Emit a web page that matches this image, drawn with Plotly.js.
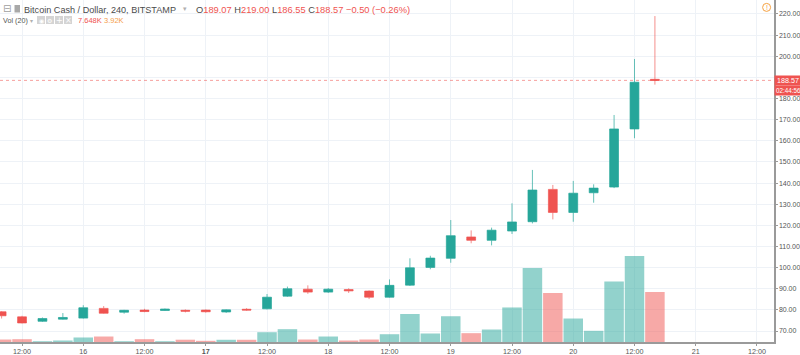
<!DOCTYPE html>
<html>
<head>
<meta charset="utf-8">
<script src="https://cdn.plot.ly/plotly-3.0.1.min.js"></script>
<style>html,body{margin:0;padding:0;background:#fff;}#chart{width:800px;height:355px;}</style>
</head>
<body>
<div id="chart"></div>
<script>
// ---- data (4h candles, BCH/USD, Bitstamp) ----
var times = [
  '2018-12-15 08:00','2018-12-15 12:00','2018-12-15 16:00','2018-12-15 20:00',
  '2018-12-16 00:00','2018-12-16 04:00','2018-12-16 08:00','2018-12-16 12:00','2018-12-16 16:00','2018-12-16 20:00',
  '2018-12-17 00:00','2018-12-17 04:00','2018-12-17 08:00','2018-12-17 12:00','2018-12-17 16:00','2018-12-17 20:00',
  '2018-12-18 00:00','2018-12-18 04:00','2018-12-18 08:00','2018-12-18 12:00','2018-12-18 16:00','2018-12-18 20:00',
  '2018-12-19 00:00','2018-12-19 04:00','2018-12-19 08:00','2018-12-19 12:00','2018-12-19 16:00','2018-12-19 20:00',
  '2018-12-20 00:00','2018-12-20 04:00','2018-12-20 08:00','2018-12-20 12:00','2018-12-20 16:00'
];
var openP  = [79.1,76.7,74.6,75.6,76.1,80.7,78.9,79.9,79.7,79.8,79.9,79.0,80.3,80.5,86.5,89.8,88.4,89.6,88.9,86.0,91.7,100.1,104.4,114.5,112.9,117.3,121.7,137.0,126.1,135.4,138.1,165.6,189.07];
var highP  = [79.4,77.2,76.4,78.5,82.2,81.8,80.0,80.5,80.6,80.2,80.2,80.2,80.8,87.5,91.0,91.6,90.3,90.2,89.2,94.4,104.4,105.6,122.5,117.6,118.9,130.4,146.2,139.1,141.0,139.4,172.2,198.7,219.00];
var lowP   = [75.9,73.6,74.3,75.4,75.9,78.2,78.2,78.9,79.5,78.8,78.7,78.6,79.6,80.2,86.2,87.6,88.0,88.0,85.1,85.8,91.3,99.2,102.3,111.5,110.5,115.9,120.9,122.8,121.7,130.7,137.6,161.2,186.55];
var closeP = [77.2,73.8,75.9,76.4,81.0,78.4,79.8,79.2,80.4,79.4,79.1,80.0,79.9,86.0,90.0,88.4,89.8,89.0,86.0,91.6,99.9,104.5,115.1,112.9,117.7,121.6,136.7,126.1,135.2,137.6,165.6,187.7,188.57];
var volumeK = [0.38,0.43,0.12,0.23,0.69,0.84,0.12,0.43,0.12,0.35,0.18,0.34,0.34,1.50,1.96,0.38,0.84,0.23,0.38,1.19,4.28,1.30,3.94,1.35,1.91,5.28,11.31,7.49,3.59,1.71,9.25,13.15,7.648];
var xTickVals = ['2018-12-15 12:00','2018-12-16 00:00','2018-12-16 12:00','2018-12-17 00:00','2018-12-17 12:00','2018-12-18 00:00','2018-12-18 12:00','2018-12-19 00:00','2018-12-19 12:00','2018-12-20 00:00','2018-12-20 12:00','2018-12-21 00:00','2018-12-21 12:00'];
var xTickText = ['12:00','16','12:00','<b>17</b>','12:00','18','12:00','19','12:00','20','12:00','21','12:00'];
var yTickVals = [70,80,90,100,110,120,130,140,150,160,170,180,190,200,210,220];
// 190.00 sits under the last-price label box, as in the reference
var yTickText = ['70.00','80.00','90.00','100.00','110.00','120.00','130.00','140.00','150.00','160.00','170.00','180.00','','200.00','210.00','220.00'];
var lastPrice = 188.57;

// ---- styling ----
var UP = '#26a69a', DOWN = '#ef5350';
var UPV = 'rgba(38,166,154,0.5)', DOWNV = 'rgba(239,83,80,0.5)';
var FONT = 'Liberation Sans, Arial, sans-serif';
var PW = 774, PH = 342;
function px(x){ return x / PW; }
function py(y){ return 1 - y / PH; }

var volColors = closeP.map(function(c, i){ return c >= openP[i] ? UPV : DOWNV; });

var volTrace = {
  type: 'bar', x: times, y: volumeK, yaxis: 'y2',
  width: 4 * 3600000 * 0.955,
  marker: { color: volColors, line: { width: 0 } },
  hoverinfo: 'skip'
};
var candleTrace = {
  type: 'candlestick', x: times, open: openP, high: highP, low: lowP, close: closeP,
  increasing: { line: { color: 'rgba(38,166,154,0.7)', width: 1 }, fillcolor: UP },
  decreasing: { line: { color: 'rgba(239,83,80,0.65)', width: 1 }, fillcolor: DOWN },
  whiskerwidth: 0, hoverinfo: 'skip'
};

var red = function(t){ return '<span style="color:' + DOWN + '">' + t + '</span>'; };

var annotations = [
  { x: px(2), y: py(9), text: '⊟', font: { size: 10, color: '#a0a0a0', family: 'DejaVu Sans' } },
  { x: px(23), y: py(9.5), text: 'Bitcoin Cash / Dollar, 240, BITSTAMP', font: { size: 9.1, color: '#4a4a4a', family: FONT } },
  { x: px(182), y: py(9), text: '▾', font: { size: 7, color: '#b0b0b0', family: 'DejaVu Sans' } },
  { x: px(195), y: py(9.5), text: 'O' + red('189.07') + ' H' + red('219.00') + ' L' + red('186.55') + ' C' + red('188.57') + ' ' + red('−0.50 (−0.26%)'), font: { size: 9.3, color: '#4a4a4a', family: FONT } },
  { x: px(2), y: py(20), text: 'Vol (20)', font: { size: 7.2, color: '#555', family: FONT } },
  { x: px(29), y: py(20), text: '▾', font: { size: 6, color: '#b0b0b0', family: 'DejaVu Sans' } },
  { x: px(41), y: py(20), text: '◉', xanchor: 'center', font: { size: 6, color: '#fff', family: 'DejaVu Sans' } },
  { x: px(50), y: py(20), text: '⚙', xanchor: 'center', font: { size: 6, color: '#fff', family: 'DejaVu Sans' } },
  { x: px(59), y: py(20), text: '+', xanchor: 'center', font: { size: 8, color: '#fff', family: 'DejaVu Sans' } },
  { x: px(68), y: py(20), text: '×', xanchor: 'center', font: { size: 8, color: '#fff', family: 'DejaVu Sans' } },
  { x: px(77), y: py(20), text: '7.648K', font: { size: 7.5, color: DOWN, family: FONT } },
  { x: px(103), y: py(20), text: '3.92K', font: { size: 7.5, color: '#f59d4a', family: FONT } },
  { x: px(766.6), y: py(7.6), text: '!', xanchor: 'center', font: { size: 7, color: '#f5a142', family: FONT } },
  { x: px(775.5), y: py(80.5), text: lastPrice.toFixed(2), font: { size: 7.2, color: '#fff', family: FONT } },
  { x: px(775.2), y: py(90.5), text: '02:44:56', font: { size: 6.3, color: '#fff', family: FONT } }
].map(function(a){
  return Object.assign({ xref: 'paper', yref: 'paper', xanchor: 'left', yanchor: 'middle', showarrow: false, borderpad: 0 }, a);
});

var shapes = [
  { type: 'line', xref: 'paper', yref: 'y', x0: 0, x1: 1, y0: lastPrice, y1: lastPrice, line: { color: 'rgba(239,83,80,0.55)', width: 1, dash: 'dot' } },
  { type: 'rect', xref: 'paper', yref: 'paper', x0: px(14.5), x1: px(20), y0: py(5), y1: py(12.5), fillcolor: '#a8a8a8', line: { width: 0 } },
  { type: 'rect', xref: 'paper', yref: 'paper', x0: px(37), x1: px(45), y0: py(16), y1: py(24), fillcolor: '#d4d4d4', line: { width: 0 } },
  { type: 'rect', xref: 'paper', yref: 'paper', x0: px(46), x1: px(54), y0: py(16), y1: py(24), fillcolor: '#d4d4d4', line: { width: 0 } },
  { type: 'rect', xref: 'paper', yref: 'paper', x0: px(55), x1: px(63), y0: py(16), y1: py(24), fillcolor: '#d4d4d4', line: { width: 0 } },
  { type: 'rect', xref: 'paper', yref: 'paper', x0: px(64), x1: px(72), y0: py(16), y1: py(24), fillcolor: '#d4d4d4', line: { width: 0 } },
  { type: 'circle', xref: 'paper', yref: 'paper', x0: px(762.6), x1: px(770.6), y0: py(3.4), y1: py(11.4), fillcolor: '#fff', line: { color: '#f5a142', width: 1 } },
  { type: 'rect', xref: 'paper', yref: 'paper', x0: px(774.5), x1: px(800), y0: py(75.5), y1: py(85.5), fillcolor: DOWN, line: { width: 0 } },
  { type: 'rect', xref: 'paper', yref: 'paper', x0: px(774.5), x1: px(800), y0: py(85.5), y1: py(95.5), fillcolor: DOWN, line: { width: 0 } }
];

var layout = {
  width: 800, height: 355,
  margin: { l: 0, r: 26, t: 0, b: 13, pad: 0 },
  paper_bgcolor: '#fff', plot_bgcolor: '#fff',
  showlegend: false, hovermode: false, dragmode: false,
  boxgap: 0.38,
  font: { family: FONT, size: 7.2, color: '#555' },
  xaxis: {
    type: 'date', range: ['2018-12-15 07:41', '2018-12-21 15:20'],
    tickmode: 'array', tickvals: xTickVals, ticktext: xTickText,
    showgrid: true, gridcolor: '#eef2f7', gridwidth: 1,
    ticks: 'outside', ticklen: 2, tickcolor: '#9a9a9a',
    tickfont: { size: 7.2, color: '#555', family: FONT },
    showline: true, linecolor: '#9a9a9a', linewidth: 1.5,
    zeroline: false, rangeslider: { visible: false }, fixedrange: true
  },
  yaxis: {
    range: [64.8, 226.6], side: 'right',
    tickmode: 'array', tickvals: yTickVals, ticktext: yTickText,
    showgrid: true, gridcolor: '#eef2f7', gridwidth: 1,
    ticks: 'outside', ticklen: 2, tickcolor: '#9a9a9a',
    tickfont: { size: 7.0, color: '#555', family: FONT },
    showline: true, linecolor: '#9a9a9a', linewidth: 1.5,
    zeroline: false, fixedrange: true, automargin: false
  },
  yaxis2: { overlaying: 'y', range: [0, 52.3], visible: false, fixedrange: true },
  annotations: annotations,
  shapes: shapes
};

Plotly.newPlot('chart', [volTrace, candleTrace], layout, { staticPlot: true, displayModeBar: false });
</script>
</body>
</html>
